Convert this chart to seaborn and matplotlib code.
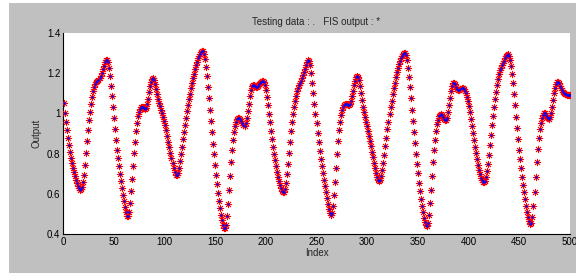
import numpy as np
import pandas as pd
import matplotlib
matplotlib.use('Agg')
import matplotlib.pyplot as plt
import seaborn as sns

# values, index 1..500
output_vals = [
    1.05, 1.003, 0.957, 0.915, 0.877, 0.842, 0.81, 0.78, 0.755, 0.73,
    0.708, 0.688, 0.67, 0.655, 0.64, 0.628, 0.621, 0.622, 0.635, 0.66,
    0.695, 0.745, 0.805, 0.865, 0.918, 0.965, 1.008, 1.048, 1.082, 1.11,
    1.132, 1.147, 1.156, 1.162, 1.168, 1.176, 1.188, 1.203, 1.22, 1.238,
    1.254, 1.265, 1.268, 1.255, 1.225, 1.185, 1.138, 1.085, 1.03, 0.975,
    0.92, 0.868, 0.82, 0.776, 0.736, 0.698, 0.662, 0.628, 0.595, 0.563,
    0.533, 0.507, 0.49, 0.488, 0.51, 0.555, 0.612, 0.676, 0.74, 0.802,
    0.86, 0.91, 0.952, 0.985, 1.008, 1.022, 1.03, 1.032, 1.03, 1.025,
    1.022, 1.027, 1.045, 1.072, 1.105, 1.135, 1.158, 1.172, 1.175, 1.165,
    1.145, 1.12, 1.095, 1.072, 1.052, 1.035, 1.018, 1.0, 0.982, 0.962,
    0.94, 0.915, 0.888, 0.86, 0.832, 0.805, 0.778, 0.752, 0.728, 0.708,
    0.695, 0.693, 0.705, 0.73, 0.762, 0.798, 0.835, 0.872, 0.908, 0.943,
    0.977, 1.01, 1.04, 1.07, 1.098, 1.125, 1.15, 1.175, 1.198, 1.22,
    1.24, 1.258, 1.274, 1.288, 1.298, 1.306, 1.31, 1.308, 1.296, 1.27,
    1.232, 1.185, 1.13, 1.075, 1.017, 0.96, 0.905, 0.85, 0.797, 0.745,
    0.695, 0.648, 0.604, 0.564, 0.528, 0.496, 0.468, 0.445, 0.43, 0.428,
    0.445, 0.49, 0.55, 0.618, 0.69, 0.758, 0.818, 0.868, 0.908, 0.938,
    0.958, 0.972, 0.978, 0.978, 0.972, 0.962, 0.95, 0.94, 0.938, 0.95,
    0.975, 1.01, 1.048, 1.085, 1.115, 1.135, 1.142, 1.14, 1.135, 1.132,
    1.133, 1.138, 1.145, 1.152, 1.157, 1.16, 1.16, 1.155, 1.14, 1.115,
    1.08, 1.04, 0.998, 0.955, 0.913, 0.873, 0.835, 0.8, 0.768, 0.738,
    0.71, 0.685, 0.663, 0.643, 0.627, 0.615, 0.608, 0.61, 0.625, 0.655,
    0.698, 0.75, 0.805, 0.86, 0.91, 0.955, 0.995, 1.03, 1.06, 1.088,
    1.11, 1.128, 1.142, 1.153, 1.163, 1.175, 1.19, 1.206, 1.223, 1.24,
    1.255, 1.265, 1.262, 1.24, 1.2, 1.152, 1.1, 1.048, 0.998, 0.95,
    0.903, 0.858, 0.815, 0.775, 0.738, 0.703, 0.67, 0.638, 0.607, 0.578,
    0.55, 0.525, 0.505, 0.495, 0.505, 0.54, 0.595, 0.66, 0.73, 0.8,
    0.862, 0.915, 0.958, 0.99, 1.015, 1.03, 1.042, 1.048, 1.048, 1.045,
    1.042, 1.042, 1.048, 1.062, 1.085, 1.112, 1.14, 1.163, 1.18, 1.187,
    1.183, 1.165, 1.135, 1.1, 1.065, 1.033, 1.005, 0.98, 0.957, 0.935,
    0.913, 0.89, 0.865, 0.838, 0.81, 0.782, 0.753, 0.726, 0.703, 0.682,
    0.668, 0.662, 0.668, 0.688, 0.718, 0.755, 0.795, 0.838, 0.88, 0.92,
    0.958, 0.995, 1.03, 1.063, 1.095, 1.125, 1.153, 1.18, 1.204, 1.226,
    1.246, 1.263, 1.277, 1.288, 1.296, 1.3, 1.3, 1.29, 1.265, 1.228,
    1.182, 1.13, 1.075, 1.018, 0.962, 0.907, 0.853, 0.8, 0.75, 0.702,
    0.656, 0.614, 0.575, 0.54, 0.508, 0.48, 0.458, 0.443, 0.44, 0.455,
    0.495, 0.552, 0.62, 0.69, 0.757, 0.818, 0.87, 0.912, 0.945, 0.968,
    0.985, 0.993, 0.995, 0.99, 0.982, 0.972, 0.965, 0.965, 0.978, 1.005,
    1.04, 1.078, 1.11, 1.135, 1.15, 1.152, 1.145, 1.133, 1.123, 1.118,
    1.118, 1.122, 1.125, 1.124, 1.12, 1.112, 1.1, 1.083, 1.062, 1.035,
    1.005, 0.972, 0.938, 0.903, 0.868, 0.835, 0.803, 0.773, 0.745, 0.72,
    0.698, 0.68, 0.668, 0.66, 0.658, 0.665, 0.683, 0.712, 0.75, 0.795,
    0.843, 0.893, 0.942, 0.988, 1.03, 1.07, 1.106, 1.14, 1.17, 1.195,
    1.214, 1.228, 1.24, 1.252, 1.263, 1.274, 1.285, 1.293, 1.295, 1.288,
    1.268, 1.238, 1.198, 1.15, 1.096, 1.04, 0.983, 0.927, 0.872, 0.82,
    0.772, 0.728, 0.686, 0.646, 0.608, 0.572, 0.54, 0.51, 0.485, 0.463,
    0.45, 0.455, 0.485, 0.54, 0.61, 0.685, 0.757, 0.822, 0.877, 0.92,
    0.953, 0.977, 0.993, 1.0, 1.0, 0.993, 0.983, 0.975, 0.973, 0.982,
    1.003, 1.033, 1.068, 1.1, 1.127, 1.146, 1.157, 1.158, 1.15, 1.138,
    1.125, 1.115, 1.107, 1.102, 1.098, 1.096, 1.094, 1.093, 1.092, 1.092,
]
# FIS output sits on top of the testing data in the picture
fis_vals = list(output_vals)
x_ticks = [0, 50, 100, 150, 200, 250, 300, 350, 400, 450, 500]
y_ticks = [0.4, 0.6, 0.8, 1.0, 1.2, 1.4]
y_labels = ['0.4', '0.6', '0.8', '1', '1.2', '1.4']

df = pd.DataFrame({'index': np.arange(1, len(output_vals) + 1),
                   'test': output_vals, 'fis': fis_vals})

sns.set_style('white')
plt.rcParams['font.family'] = ['Liberation Sans', 'DejaVu Sans']

fig = plt.figure(figsize=(5.76, 2.73), dpi=100)
fig.patch.set_facecolor('white')
# grey matlab window behind the axes
bg = plt.Rectangle((9 / 576, 0), 1 - 9 / 576, 1 - 3 / 273,
                   transform=fig.transFigure, facecolor='#c0c0c0',
                   edgecolor='none', zorder=-10)
fig.add_artist(bg)

ax = fig.add_axes([63 / 576, 39 / 273, 507 / 576, 201 / 273])
ax.set_zorder(5)
ax.set_facecolor('white')

sns.scatterplot(data=df, x='index', y='fis', ax=ax, marker=(8, 2, 0),
                color='red', s=22, linewidth=0.6, zorder=3, legend=False)
sns.scatterplot(data=df, x='index', y='test', ax=ax, marker='o',
                color='blue', s=3, linewidth=0, zorder=4, legend=False)

ax.set_xlim(0, 500)
ax.set_ylim(0.4, 1.4)
ax.set_xticks(x_ticks)
ax.set_yticks(y_ticks)
ax.set_yticklabels(y_labels)
ax.tick_params(direction='in', length=4, width=0.8, labelsize=7, pad=2,
               colors='black')
for s in ['top', 'right']:
    ax.spines[s].set_visible(False)
for s in ['left', 'bottom']:
    ax.spines[s].set_color('black')
    ax.spines[s].set_linewidth(0.8)

ax.set_title('Testing data : .   FIS output : *', fontsize=7, pad=6)
ax.set_xlabel('Index', fontsize=7, labelpad=1)
ax.set_ylabel('Output', fontsize=7, labelpad=4)

fig.savefig('out.png', dpi=100)
